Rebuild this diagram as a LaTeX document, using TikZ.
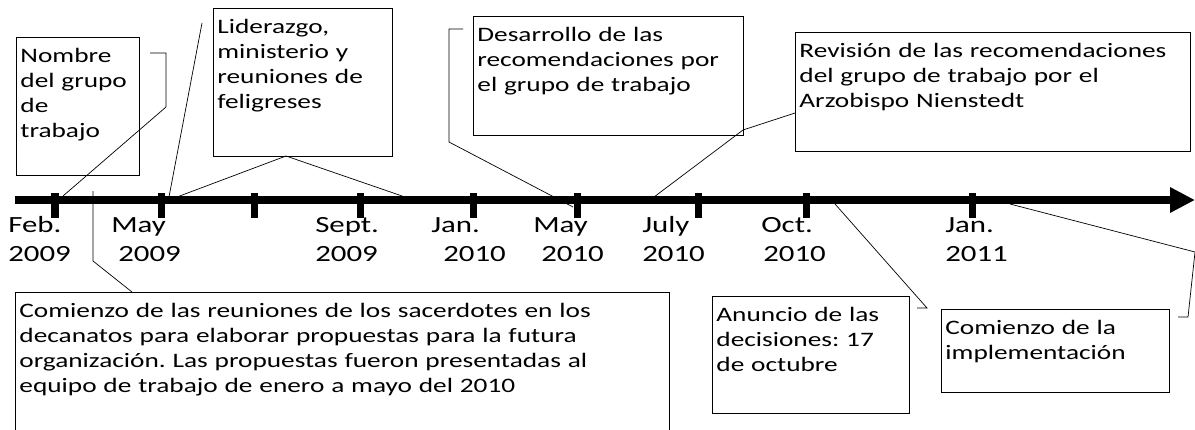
\documentclass[tikz,border=0pt]{standalone}
\usepackage{fontspec}
\setmainfont{Carlito}[FakeStretch=1.33]
\usetikzlibrary{arrows.meta}
\frenchspacing

\tikzset{
  event/.style={draw, line width=0.6pt, anchor=north west, inner xsep=0.1cm, inner ysep=0pt,
    align=left, text height=0.625cm, font=\fontsize{14.6pt}{17.8pt}\selectfont},
  datelbl/.style={anchor=north west, inner sep=0pt, align=left, text width=2cm,
    text height=0.4cm, font=\fontsize{16.5pt}{20.6pt}\selectfont},
  leader/.style={line width=0.5pt},
  tickmark/.style={line width=0.175cm},
}

\begin{document}
\begin{tikzpicture}[x=0.025cm, y=-0.025cm]
    \useasboundingbox (0,0) rectangle (1195,429);
    \clip (0,0) rectangle (1195,429);

    % time axis
    \coordinate (axis-start) at (15,200);
    \coordinate (axis-end) at (1195,200);
    \draw [line width=0.2cm, -{Triangle[length=0.625cm, width=0.6cm]}] (axis-start) -- (axis-end);
    \foreach \x in {55,161,254,360,473,577,698,806,972}
      \draw [tickmark] (\x,193) -- (\x,218);

    % dates
    \foreach \x/\m/\yr/\ind [count=\i] in {8/Feb./2009/0cm, 111/May/2009/0.175cm,
        315/Sept./2009/0cm, 431/Jan./2010/0.3cm, 533/May/2010/0.2cm,
        642/July/2010/0cm, 761/Oct./2010/0.05cm, 945/Jan./2011/0cm}
      \node (date\i) [datelbl] at (\x,216) {\m\\\hspace*{\ind}\yr};

    % events
    \node (nombre) [event, text width=2.875cm, text depth=2.825cm] at (16,37)
      {Nombre\\del grupo\\de\\trabajo};
    \node (liderazgo) [event, text width=4.275cm, text depth=3.075cm] at (213,8)
      {Liderazgo,\\ministerio y\\reuniones de\\feligreses};
    \node (desarrollo) [event, text width=6.55cm, text depth=2.35cm] at (473,16)
      {Desarrollo de las\\recomendaciones por\\el grupo de trabajo};
    \node (revision) [event, text width=9.675cm, text depth=2.35cm] at (795,32)
      {Revisión de las recomendaciones\\del grupo de trabajo por el\\Arzobispo Nienstedt};
    \node (reuniones) [event, text width=16.15cm, text depth=3.375cm] at (15,292)
      {Comienzo de las reuniones de los sacerdotes en los\\decanatos para elaborar propuestas para la futura\\organización. Las propuestas fueron presentadas al\\equipo de trabajo de enero a mayo del 2010};
    \node (anuncio) [event, text width=4.725cm, text depth=2.3cm] at (712,296)
      {Anuncio de las\\decisiones: 17\\de octubre};
    \node (implementacion) [event, text width=5.5cm, text depth=1.45cm] at (941,309)
      {Comienzo de la\\implementación};

    % callout lines
    \coordinate (a-nombre) at (63,196);
    \coordinate (b-nombre) at (150,53);
    \draw [leader] (a-nombre) -- (166,107) |- (b-nombre);

    \coordinate (a-lider) at (169,197);
    \coordinate (b-lider) at (202,23);
    \draw [leader] (a-lider) -- (b-lider);
    \coordinate (c-lider) at (177,197);
    \coordinate (d-lider) at (405,197);
    \draw [leader] (c-lider) -- (286,156) -- (d-lider);

    \coordinate (a-reuniones) at (93,191);
    \coordinate (b-reuniones) at (132,292);
    \draw [leader] (a-reuniones) -- (93,261) -- (b-reuniones);

    \coordinate (a-desarrollo) at (573,207);
    \coordinate (b-desarrollo) at (463,29);
    \draw [leader] (a-desarrollo) -- (449,142) |- (b-desarrollo);

    \coordinate (a-revision) at (654,197);
    \coordinate (b-revision) at (795,113);
    \draw [leader] (a-revision) -- (743,130) -- (b-revision);

    \coordinate (a-anuncio) at (835,204);
    \coordinate (b-anuncio) at (917,308);
    \draw [leader] (a-anuncio) -- (927,308) -- (b-anuncio);

    \coordinate (a-implem) at (1010,204);
    \coordinate (b-implem) at (1178,317);
    \draw [leader] (a-implem) -- (1195,252) -- (1188,317) -- (b-implem);
\end{tikzpicture}
\end{document}
